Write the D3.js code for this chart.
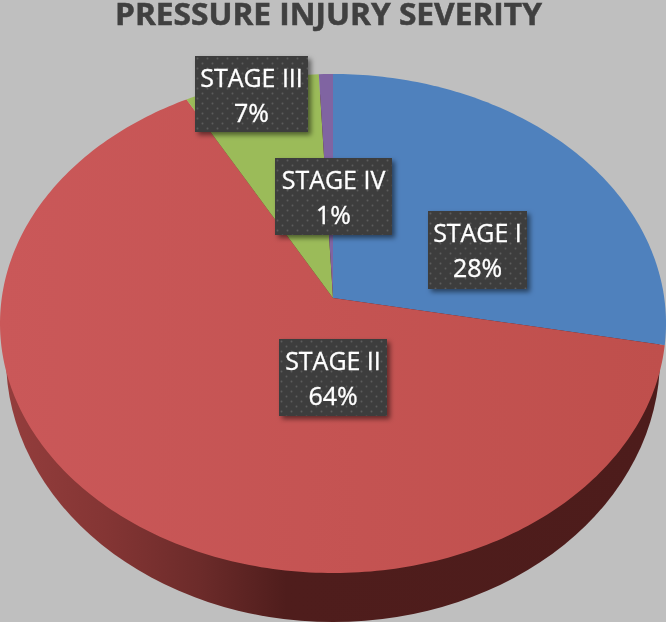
<!DOCTYPE html>
<html lang="en">
<head>
  <meta charset="UTF-8" />
  <title>pressure injury severity</title>
  <script src="https://d3js.org/d3.v7.min.js" charset="utf-8"></script>
  <style>
    html, body { margin: 0; padding: 0; background: #bfbfbf; overflow: hidden; }
    svg { display: block; }
    text { font-family: "Open Sans", sans-serif; }
  </style>
</head>
<body>
<script type="text/javascript">

const WIDTH = 666;
const HEIGHT = 622;

// data
const titleText = "PRESSURE INJURY SEVERITY";
const categories = ["STAGE I", "STAGE II", "STAGE III", "STAGE IV"];
const shares = [28, 64, 7.25, 0.75];
const colors = ["#4f81bd", "url(#redFace)", "#9bbb59", "#8064a2"];

// label boxes, left / top / width / height
const labelBoxes = [
  [428, 211, 99, 78],
  [279, 339, 108, 77],
  [195, 56, 113, 76],
  [275, 158, 117, 77]
];

// pie is tilted with some perspective, so the apex is not the ellipse centre
const CX = 333;
const TOP_Y = 74;
const BOTTOM_Y = 573;
const APEX_Y = 298;
const HALF_W = 333;

const k = (2 * APEX_Y - TOP_Y - BOTTOM_Y) / (TOP_Y - BOTTOM_Y);
const a = TOP_Y * (k + 1) - APEX_Y;
const d0 = HALF_W * Math.sqrt(1 - k * k);

function project(theta) {
  const u = Math.sin(theta), v = Math.cos(theta);
  const w = 1 + k * v;
  return [CX + d0 * u / w, (a * v + APEX_Y) / w];
}

var svg = d3.select("body")
  .append("svg")
    .attr("width", WIDTH)
    .attr("height", HEIGHT);

var defs = svg.append("defs");

var wallGrad = defs.append("linearGradient")
  .attr("id", "wall")
  .attr("gradientUnits", "userSpaceOnUse")
  .attr("x1", 0).attr("x2", WIDTH).attr("y1", 0).attr("y2", 0);
[[0, "#953e3d"], [0.16, "#843534"], [0.3, "#6c2b2a"], [0.43, "#4f1d1c"], [1, "#4d1c1b"]]
  .forEach(s => wallGrad.append("stop").attr("offset", s[0]).attr("stop-color", s[1]));

var faceGrad = defs.append("linearGradient")
  .attr("id", "redFace")
  .attr("gradientUnits", "userSpaceOnUse")
  .attr("x1", 0).attr("x2", WIDTH).attr("y1", 0).attr("y2", 0);
[[0, "#ca5859"], [1, "#bf4f4c"]]
  .forEach(s => faceGrad.append("stop").attr("offset", s[0]).attr("stop-color", s[1]));

var dots = defs.append("pattern")
  .attr("id", "dots")
  .attr("patternUnits", "userSpaceOnUse")
  .attr("width", 10).attr("height", 10);
dots.append("rect").attr("width", 10).attr("height", 10).attr("fill", "#3e3e3e");
dots.append("circle").attr("cx", 2.5).attr("cy", 2.5).attr("r", 0.9).attr("fill", "#5c5c5c");
dots.append("circle").attr("cx", 7.5).attr("cy", 7.5).attr("r", 0.9).attr("fill", "#5c5c5c");

var shadow = defs.append("filter")
  .attr("id", "boxShadow")
  .attr("x", "-20%").attr("y", "-20%").attr("width", "150%").attr("height", "150%");
shadow.append("feDropShadow")
  .attr("dx", 3).attr("dy", 3).attr("stdDeviation", 2.5)
  .attr("flood-color", "#000").attr("flood-opacity", 0.5);

var root = svg.append("g").style("filter", "blur(0.45px)");

root.append("rect")
  .attr("width", WIDTH)
  .attr("height", HEIGHT)
  .attr("fill", "#bfbfbf");

root.append("text")
  .attr("x", 328.5)
  .attr("y", 25)
  .attr("text-anchor", "middle")
  .attr("font-size", 30)
  .attr("font-weight", 700)
  .attr("fill", "#404040")
  .attr("stroke", "#404040")
  .attr("stroke-width", 0.5)
  .attr("textLength", 427)
  .attr("lengthAdjust", "spacingAndGlyphs")
  .text(titleText);

// side wall, a narrower ellipse under the top face
root.append("ellipse")
  .attr("cx", CX)
  .attr("cy", 358)
  .attr("rx", 327)
  .attr("ry", 264)
  .attr("fill", "url(#wall)");

// slices
const pie = d3.pie().sort(null).value(d => d);
const line = d3.line();
const arcs = pie(shares);

function slicePath(s) {
  const n = Math.max(2, Math.ceil((s.endAngle - s.startAngle) * 60));
  const angles = d3.range(n + 1).map(i => s.startAngle + (s.endAngle - s.startAngle) * i / n);
  return line([[CX, APEX_Y]].concat(angles.map(project))) + "Z";
}

root.append("g")
  .selectAll("path")
  .data(arcs)
  .enter().append("path")
    .attr("d", slicePath)
    .attr("fill", (d, i) => colors[i]);

// labels
var label = root.append("g")
  .selectAll("g")
  .data(arcs)
  .enter().append("g")
    .attr("transform", (d, i) => `translate(${labelBoxes[i][0]}, ${labelBoxes[i][1]})`);

label.append("rect")
  .attr("width", (d, i) => labelBoxes[i][2])
  .attr("height", (d, i) => labelBoxes[i][3])
  .attr("fill", "url(#dots)")
  .attr("filter", "url(#boxShadow)");

// glyphs in the original are a bit narrower than Open Sans, squeeze a little
label.append("text")
  .attr("transform", (d, i) => `translate(${labelBoxes[i][2] / 2}, 31) scale(0.96, 1)`)
  .attr("text-anchor", "middle")
  .attr("font-size", 26)
  .attr("fill", "#fff")
  .attr("stroke", "#fff")
  .attr("stroke-width", 0.35)
  .text((d, i) => categories[i]);

label.append("text")
  .attr("transform", (d, i) => `translate(${labelBoxes[i][2] / 2}, 66) scale(0.96, 1)`)
  .attr("text-anchor", "middle")
  .attr("font-size", 26)
  .attr("fill", "#fff")
  .attr("stroke", "#fff")
  .attr("stroke-width", 0.35)
  .text(d => Math.ceil(d.data - 0.5) + "%");

</script>
</body>
</html>
